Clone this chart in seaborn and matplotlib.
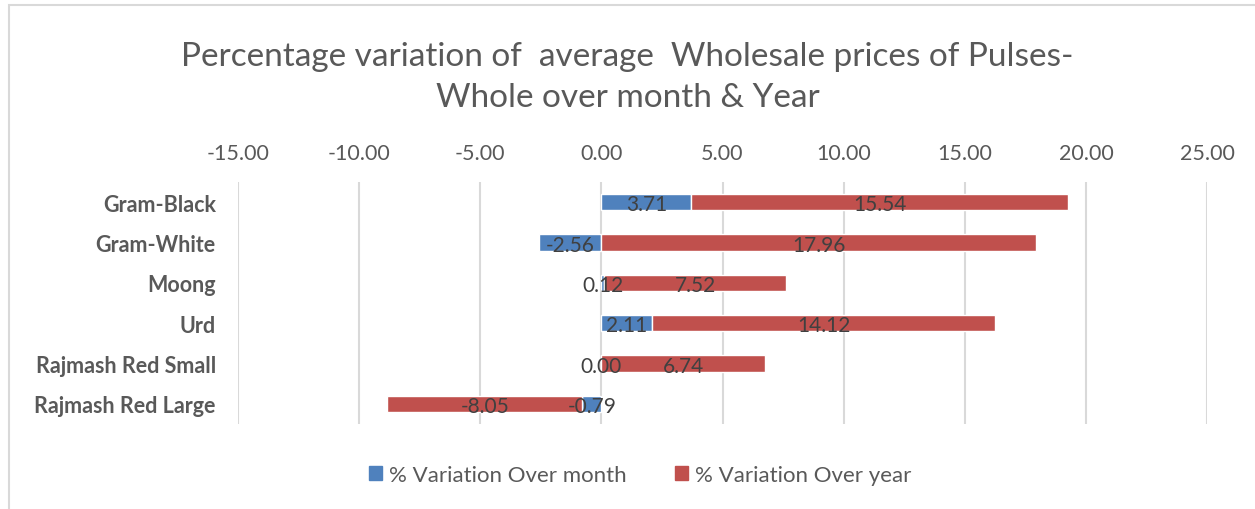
import numpy as np
import pandas as pd
import matplotlib
matplotlib.use('Agg')
import matplotlib.pyplot as plt
import seaborn as sns
from matplotlib.patches import Rectangle, Patch

# data
pulses = ['Gram-Black', 'Gram-White', 'Moong', 'Urd', 'Rajmash Red Small', 'Rajmash Red Large']
var_month = [3.71, -2.56, 0.12, 2.11, 0.00, -0.79]
var_year = [15.54, 17.96, 7.52, 14.12, 6.74, -8.05]
x_ticks = [-15, -10, -5, 0, 5, 10, 15, 20, 25]

blue = '#4F81BD'
red = '#C0504D'
text_col = '#595959'

sns.set_theme(style='white')
plt.rcParams['font.family'] = ['Lato', 'DejaVu Sans']

df = pd.DataFrame({'pulse': pulses, 'month': var_month, 'year': var_year})

fig = plt.figure(figsize=(12.55, 5.10), dpi=100)
ax = fig.add_axes([238 / 1255, 1 - 425 / 510, (1207 - 238) / 1255, (425 - 183) / 510])

# month series through seaborn, year stacked on top of it (same sign only)
sns.barplot(data=df, y='pulse', x='month', color=blue, orient='h', width=0.4,
            saturation=1, ax=ax, zorder=3)
offset = np.where(np.sign(df['year']) == np.sign(df['month']), df['month'], 0.0)
ax.barh(np.arange(len(pulses)), df['year'], left=offset, height=0.4,
        color=red, zorder=3)

# data labels, centred in each segment
for i in range(len(pulses)):
    m = df['month'][i]
    y = df['year'][i]
    ax.text(m / 2, i + 0.05, f'{m:.2f}', ha='center', va='center',
            fontsize=15, color='#404040', zorder=5)
    ax.text(offset[i] + y / 2, i + 0.05, f'{y:.2f}', ha='center', va='center',
            fontsize=15, color='#404040', zorder=5)

ax.set_xlim(-15, 25)
ax.set_ylim(len(pulses) - 0.5, -0.5)
ax.set_xticks(x_ticks)
ax.set_xticklabels([f'{t:.2f}' for t in x_ticks], fontsize=15.5, color=text_col)
ax.xaxis.tick_top()
ax.tick_params(axis='x', length=0, pad=14)
ax.tick_params(axis='y', length=0, pad=16)
for lbl in ax.get_yticklabels():
    lbl.set_fontsize(15.5)
    lbl.set_fontweight('bold')
    lbl.set_color(text_col)
ax.set_xlabel('')
ax.set_ylabel('')
ax.grid(axis='x', color='#D9D9D9', linewidth=1.5, zorder=0)
ax.grid(axis='y', visible=False)
for s in ax.spines.values():
    s.set_visible(False)

fig.text(0.5, 1 - 66 / 510, 'Percentage variation of  average  Wholesale prices of Pulses-',
         ha='center', va='baseline', fontsize=24, color=text_col)
fig.text(0.5, 1 - 107 / 510, 'Whole over month & Year',
         ha='center', va='baseline', fontsize=24, color=text_col)

handles = [Patch(color=blue, label='% Variation Over month'),
           Patch(color=red, label='% Variation Over year')]
fig.legend(handles=handles, loc='center', bbox_to_anchor=(0.51, 1 - 476 / 510),
           ncol=2, frameon=False, fontsize=16, handlelength=0.6, handleheight=0.6,
           handletextpad=0.3, columnspacing=2.2, labelcolor=text_col)

# outer chart border
fig.patches.append(Rectangle((9 / 1255, -0.1), 1.2, 1 - 6 / 510 + 0.1,
                             transform=fig.transFigure, fill=False,
                             edgecolor='#D9D9D9', linewidth=1.5))

fig.savefig('out.png', dpi=100)
